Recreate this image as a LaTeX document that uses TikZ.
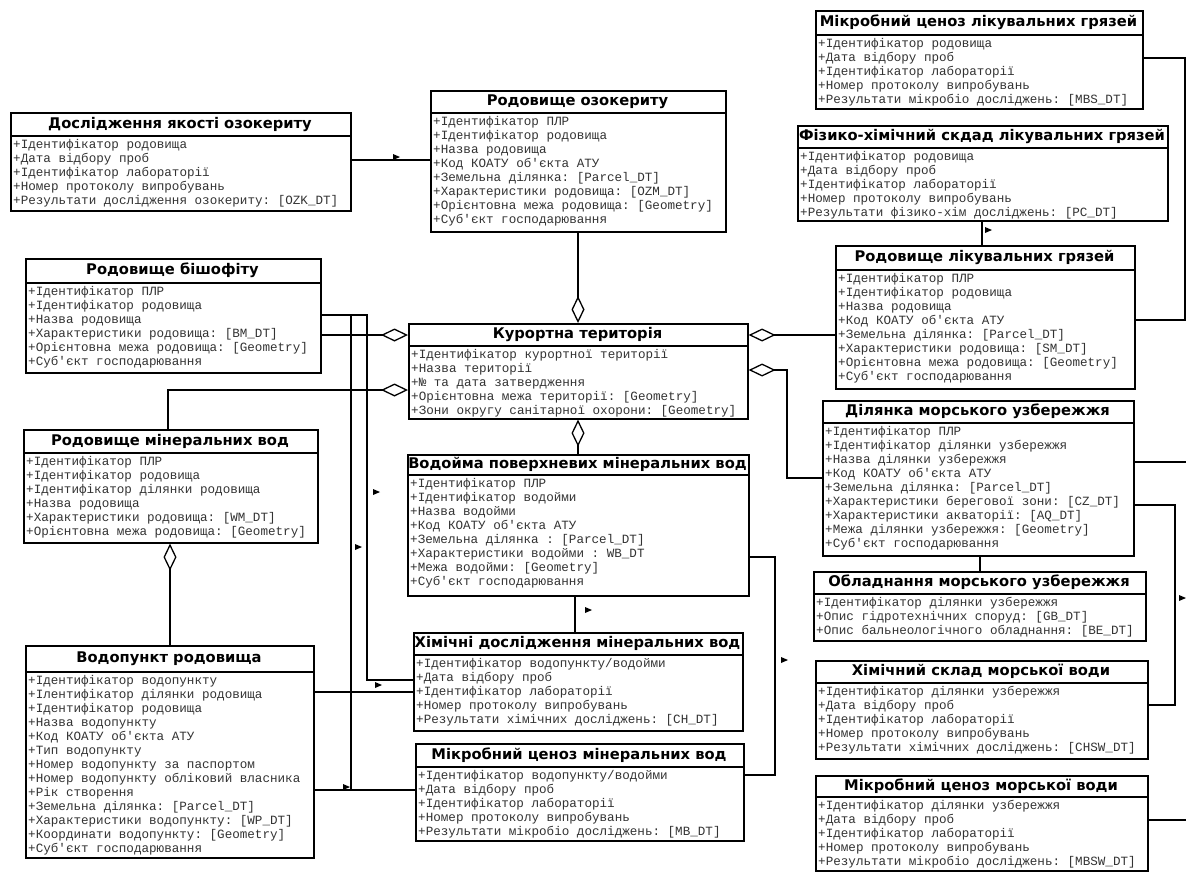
\documentclass[tikz,border=0pt]{standalone}
\usepackage{fontspec}
\setmonofont{Liberation Mono}
\newfontfamily\hdfont{DejaVu Sans}
\usetikzlibrary{arrows.meta,calc}
\tikzset{
  cls/.style={draw, line width=1.6pt, inner sep=0pt, fill=white},
  ttl/.style={font=\hdfont\bfseries\fontsize{14.7}{16}\selectfont, inner sep=0pt},
  rows/.style={font=\ttfamily\fontsize{12.6}{14.0}\selectfont, text=black!80, align=left, inner sep=0pt, anchor=north west},
  conn/.style={line width=1.4pt},
  agg/.style={conn, -{Diamond[open, length=27pt, width=13pt, line width=1.3pt]}},
}
\newcommand\umlcls[8]{%
  \node[cls, minimum width=#4pt, minimum height=#6pt, anchor=north west] (#1) at (#2,#3) {};
  \draw[line width=1.3pt] ({#2},{#3+#5}) -- ({#2+#4},{#3+#5});
  \node[ttl] (#1t) at ({#2+#4/2},{#3+#5/2}) {#7};
  \node[rows] (#1r) at ({#2+3},{#3+#5+3.5}) {#8};
}
\newcommand\navmark[2]{\fill (#1,#2) ++(0,-3) -- ++(7,3) -- ++(-7,3) -- cycle;}
\begin{document}
\begin{tikzpicture}[x=1pt,y=-1pt]
\fill[white] (0,0) rectangle (1186,871);
\useasboundingbox (0,0) rectangle (1186,871);

\umlcls{ozk}{10}{112}{340}{24}{98}{Дослідження якості озокериту}{%
+Ідентифікатор родовища\\+Дата відбору проб\\+Ідентифікатор лабораторії\\+Номер протоколу випробувань\\+Результати дослідження озокериту: [OZK\_DT]}

\umlcls{ozm}{430}{90}{295}{23}{141}{Родовище озокериту}{%
+Ідентифікатор ПЛР\\+Ідентифікатор родовища\\+Назва родовища\\+Код КОАТУ об'єкта АТУ\\+Земельна ділянка: [Parcel\_DT]\\+Характеристики родовища: [OZM\_DT]\\+Орієнтовна межа родовища: [Geometry]\\+Суб'єкт господарювання}

\umlcls{mbs}{815}{10}{327}{25}{98}{Мікробний ценоз лікувальних грязей}{%
+Ідентифікатор родовища\\+Дата відбору проб\\+Ідентифікатор лабораторії\\+Номер протоколу випробувань\\+Результати мікробіо досліджень: [MBS\_DT]}

\umlcls{pc}{797}{125}{370}{23}{95}{Фізико-хімічний скдад лікувальних грязей}{%
+Ідентифікатор родовища\\+Дата відбору проб\\+Ідентифікатор лабораторії\\+Номер протоколу випробувань\\+Результати фізико-хім досліджень: [PC\_DT]}

\umlcls{sm}{835}{245}{299}{25}{143}{Родовище лікувальних грязей}{%
+Ідентифікатор ПЛР\\+Ідентифікатор родовища\\+Назва родовища\\+Код КОАТУ об'єкта АТУ\\+Земельна ділянка: [Parcel\_DT]\\+Характеристики родовища: [SM\_DT]\\+Орієнтовна межа родовища: [Geometry]\\+Суб'єкт господарювання}

\umlcls{bm}{25}{258}{295}{25}{114}{Родовище бішофіту}{%
+Ідентифікатор ПЛР\\+Ідентифікатор родовища\\+Назва родовища\\+Характеристики родовища: [BM\_DT]\\+Орієнтовна межа родовища: [Geometry]\\+Суб'єкт господарювання}

\umlcls{kt}{408}{323}{339}{23}{95}{Курортна територія}{%
+Ідентифікатор курортної території\\+Назва території\\+№ та дата затвердження\\+Орієнтовна межа території: [Geometry]\\+Зони округу санітарної охорони: [Geometry]}

\umlcls{cz}{822}{400}{311}{23}{155}{Ділянка морського узбережжя}{%
+Ідентифікатор ПЛР\\+Ідентифікатор ділянки узбережжя\\+Назва ділянки узбережжя\\+Код КОАТУ об'єкта АТУ\\+Земельна ділянка: [Parcel\_DT]\\+Характеристики берегової зони: [CZ\_DT]\\+Характеристики акваторії: [AQ\_DT]\\+Межа ділянки узбережжя: [Geometry]\\+Суб'єкт господарювання}

\umlcls{wm}{23}{429}{294}{24}{113}{Родовище мінеральних вод}{%
+Ідентифікатор ПЛР\\+Ідентифікатор родовища\\+Ідентифікатор ділянки родовища\\+Назва родовища\\+Характеристики родовища: [WM\_DT]\\+Орієнтовна межа родовища: [Geometry]}

\umlcls{wb}{407}{454}{341}{21}{141}{Водойма поверхневих мінеральних вод}{%
+Ідентифікатор ПЛР\\+Ідентифікатор водойми\\+Назва водойми\\+Код КОАТУ об'єкта АТУ\\+Земельна ділянка : [Parcel\_DT]\\+Характеристики водойми : WB\_DT\\+Межа водойми: [Geometry]\\+Суб'єкт господарювання}

\umlcls{be}{813}{571}{332}{23}{69}{Обладнання морського узбережжя}{%
+Ідентифікатор ділянки узбережжя\\+Опис гідротехнічних споруд: [GB\_DT]\\+Опис бальнеологічного обладнання: [BE\_DT]}

\umlcls{wp}{25}{645}{288}{27}{212}{Водопункт родовища}{%
+Ідентифікатор водопункту\\+Ілентифікатор ділянки родовища\\+Ідентифікатор родовища\\+Назва водопункту\\+Код КОАТУ об'єкта АТУ\\+Тип водопункту\\+Номер водопункту за паспортом\\+Номер водопункту обліковий власника\\+Рік створення\\+Земельна ділянка: [Parcel\_DT]\\+Характеристики водопункту: [WP\_DT]\\+Координати водопункту: [Geometry]\\+Суб'єкт господарювання}

\umlcls{chm}{413}{632}{329}{23}{98}{Хімічні дослідження мінеральних вод}{%
+Ідентифікатор водопункту/водойми\\+Дата відбору проб\\+Ідентифікатор лабораторії\\+Номер протоколу випробувань\\+Результати хімічних досліджень: [CH\_DT]}

\umlcls{chsw}{815}{660}{332}{23}{98}{Хімічний склад морської води}{%
+Ідентифікатор ділянки узбережжя\\+Дата відбору проб\\+Ідентифікатор лабораторії\\+Номер протоколу випробувань\\+Результати хімічних досліджень: [CHSW\_DT]}

\umlcls{mbm}{415}{743}{328}{24}{97}{Мікробний ценоз мінеральних вод}{%
+Ідентифікатор водопункту/водойми\\+Дата відбору проб\\+Ідентифікатор лабораторії\\+Номер протоколу випробувань\\+Результати мікробіо досліджень: [MB\_DT]}

\umlcls{mbsw}{815}{775}{332}{22}{95}{Мікробний ценоз морської води}{%
+Ідентифікатор ділянки узбережжя\\+Дата відбору проб\\+Ідентифікатор лабораторії\\+Номер протоколу випробувань\\+Результати мікробіо досліджень: [MBSW\_DT]}

% connectors
\draw[conn] (ozk.east |- 0,160) -- (ozm.west |- 0,160);
\draw[agg] (ozm.south -| 578,0) -- (kt.north -| 578,0);
\draw[agg] (bm.east |- 0,335) -- (kt.west |- 0,335);
\draw[agg] (wm.north -| 168,0) -- (168,390) -- (kt.west |- 0,390);
\draw[agg] (sm.west |- 0,335) -- (kt.east |- 0,335);
\draw[agg] (cz.west |- 0,478) -- (787,478) -- (787,370) -- (kt.east |- 0,370);
\draw[agg] (wb.north -| 578,0) -- (kt.south -| 578,0);
\draw[conn] (mbs.east |- 0,58) -- (1185,58) -- (1185,320) -- (sm.east |- 0,320);
\draw[conn] (pc.south -| 982,0) -- (sm.north -| 982,0);
\draw[conn] (cz.south -| 980,0) -- (be.north -| 980,0);
\draw[conn] (cz.east |- 0,505) -- (1175,505) -- (1175,705) -- (chsw.east |- 0,705);
\draw[conn] (cz.east |- 0,462) -- (1190,462) -- (1190,820) -- (mbsw.east |- 0,820);
\draw[conn] (wb.south -| 575,0) -- (chm.north -| 575,0);
\draw[conn] (wb.east |- 0,557) -- (775,557) -- (775,775) -- (mbm.east |- 0,775);
\draw[agg] (wp.north -| 170,0) -- (wm.south -| 170,0);
\draw[conn] (bm.east |- 0,315) -- (367,315) -- (367,680) -- (chm.west |- 0,680);
\draw[conn] (bm.east |- 0,315) -- (351,315) -- (351,790) -- (mbm.west |- 0,790);
\draw[conn] (wp.east |- 0,692) -- (chm.west |- 0,692);
\draw[conn] (wp.east |- 0,790) -- (mbm.west |- 0,790);

% navigability marks
\navmark{393}{157}
\navmark{985}{230}
\navmark{373}{492}
\navmark{355}{547}
\navmark{375}{685}
\navmark{343}{787}
\navmark{585}{610}
\navmark{781}{660}
\navmark{1179}{598}
\end{tikzpicture}
\end{document}
